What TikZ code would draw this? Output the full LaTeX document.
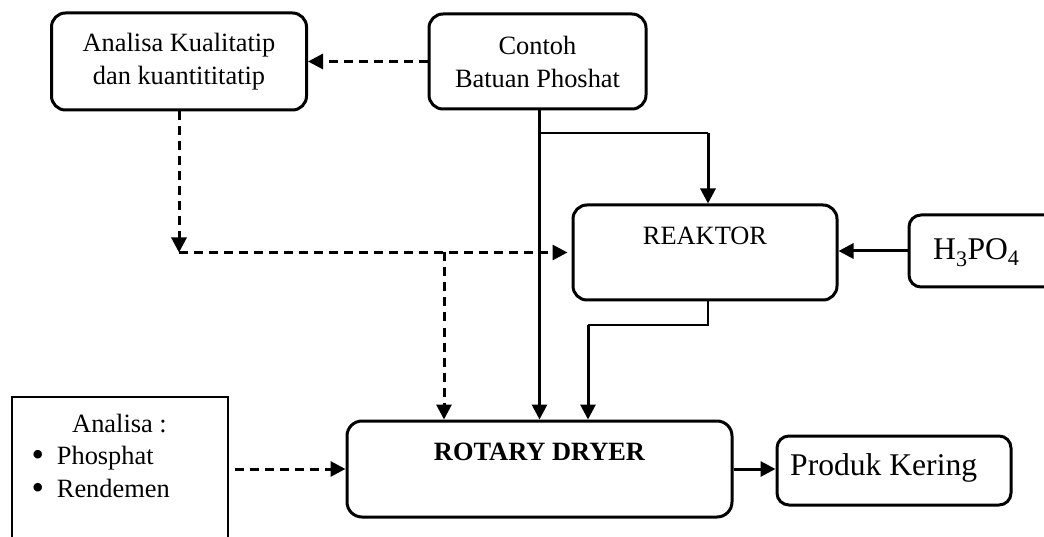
\documentclass[tikz,border=0pt]{standalone}
\usepackage{fontspec}
\usepackage{graphicx}
\setmainfont{Liberation Serif}
\usetikzlibrary{arrows.meta}
\newcommand{\fmain}{\fontsize{26.4}{33}\selectfont}
\newcommand{\fbig}{\fontsize{31.6}{38}\selectfont}
\newcommand{\bigbul}{\raisebox{-0.08em}{\scalebox{1.35}{\textbullet}}}
\begin{document}
\begin{tikzpicture}[x=1pt,y=-1pt,
  box/.style={draw, line width=3pt, rounded corners=14pt, inner sep=0pt, font=\fmain, align=center},
  sqbox/.style={draw, line width=2.5pt, inner sep=0pt},
  txt/.style={inner sep=0pt, font=\fmain},
  flow/.style={line width=3pt, -{Triangle[length=15pt,width=15pt]}},
  dflow/.style={flow, dash pattern=on 9pt off 6pt},
  thinline/.style={line width=2pt}
]
\fill[white] (0,0) rectangle (1044,537);
\clip (0,0) rectangle (1044,537);
% boxes
\node[box, minimum width=255pt, minimum height=97pt] (kual) at (179,61.5) {Analisa Kualitatip\\dan kuantititatip};
\node[box, minimum width=217pt, minimum height=95pt] (contoh) at (537.5,61.5) {Contoh\\Batuan Phoshat};
\node[box, minimum width=264pt, minimum height=95pt] (reak) at (705,252.5) {};
\node[txt] (reaktxt) at (705,236) {REAKTOR};
\node[box, rounded corners=12pt, minimum width=160pt, minimum height=72pt] (h3) at (989,251) {};
\node[txt, font=\fbig, anchor=base west] (h3txt) at (933,260) {H\textsubscript{3}PO\textsubscript{4}};
\node[box, rounded corners=15pt, minimum width=385pt, minimum height=96pt] (rotary) at (539.5,469) {};
\node[txt, font=\fmain\bfseries] (rottxt) at (539.5,452) {ROTARY DRYER};
\node[box, rounded corners=12pt, minimum width=234pt, minimum height=69pt] (prod) at (894,470.5) {};
\node[txt, font=\fbig, anchor=base west] (prodtxt) at (790,475) {Produk Kering};
\node[sqbox, minimum width=216pt, minimum height=152pt] (anl) at (120,473) {};
\node[txt, anchor=base] (anltxt) at (119.5,432) {Analisa :};
\node[txt, anchor=base west] (b1) at (31.5,464) {\makebox[25.2pt][l]{\bigbul}Phosphat};
\node[txt, anchor=base west] (b2) at (31.5,497) {\makebox[25.2pt][l]{\bigbul}Rendemen};
% coordinates
\coordinate (c1) at (539.5,133);
\coordinate (c2) at (708,133);
\coordinate (r1) at (708,325);
\coordinate (r2) at (588,325);
\coordinate (d1) at (kual.south |- reak.west);
\coordinate (d2) at (444,252.5);
\coordinate (a1) at (235,469);
% connectors
\draw[dflow] (contoh.west) -- (contoh.west -| kual.east);
\draw[flow] (contoh.south -| rotary.north) -- (rotary.north);
\draw[thinline] (c1) -- (c2);
\draw[flow] (c2) -- (c2 |- reak.north);
\draw[thinline] (r1 |- reak.south) -- (r1) -- (r2);
\draw[flow] (r2) -- (r2 |- rotary.north);
\draw[flow] (h3.west) -- (h3.west -| reak.east);
\draw[dflow] (kual.south) -- (d1);
\draw[dflow, shorten >=4pt] (d1) -- (reak.west);
\draw[dflow] (d2) -- (d2 |- rotary.north);
\draw[dflow] (a1) -- (rotary.west);
\draw[flow] (rotary.east) -- (rotary.east -| prod.west);
\end{tikzpicture}
\end{document}
